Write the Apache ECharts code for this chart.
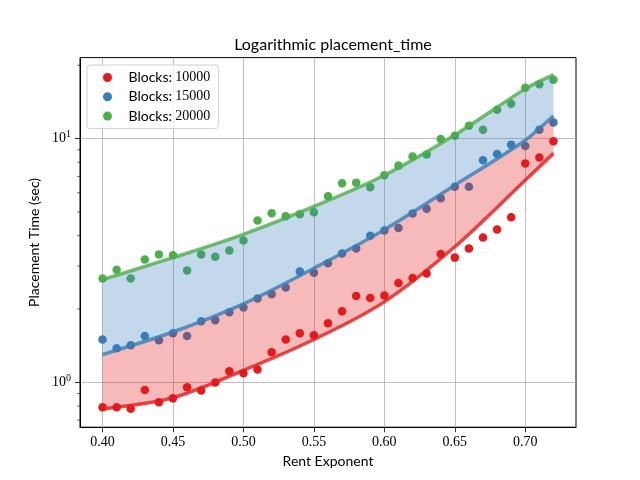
<!DOCTYPE html>
<html><head><meta charset="utf-8">
<script src="https://cdn.jsdelivr.net/npm/echarts@6/dist/echarts.min.js"></script>
<style>html,body{margin:0;padding:0;background:#fff}#c{width:640px;height:480px}</style>
</head><body><div id="c"></div>
<script>
// ---- data ----
const rentExponent = [0.40,0.41,0.42,0.43,0.44,0.45,0.46,0.47,0.48,0.49,0.50,0.51,0.52,0.53,0.54,0.55,0.56,0.57,0.58,0.59,0.60,0.61,0.62,0.63,0.64,0.65,0.66,0.67,0.68,0.69,0.70,0.71,0.72];
const blocks10000 = [0.79,0.79,0.78,0.93,0.83,0.86,0.955,0.927,1.00,1.11,1.09,1.13,1.33,1.50,1.59,1.56,1.75,1.96,2.26,2.22,2.27,2.56,2.68,2.80,3.36,3.25,3.54,3.93,4.24,4.76,7.90,8.36,9.75];
const blocks15000 = [1.50,1.38,1.42,1.55,1.49,1.59,1.55,1.78,1.80,1.94,2.03,2.21,2.30,2.45,2.85,2.82,3.08,3.38,3.54,4.00,4.20,4.30,4.93,5.16,5.69,6.35,6.35,8.15,8.65,9.45,9.33,10.88,11.66];
const blocks20000 = [2.67,2.90,2.67,3.19,3.35,3.32,2.88,3.35,3.28,3.48,3.82,4.61,4.94,4.80,4.90,4.99,5.80,6.56,6.60,6.32,7.07,7.75,8.44,8.60,9.96,10.28,11.30,10.88,13.15,13.91,16.18,16.70,17.45];
const seriesNames = ['Blocks: 10000','Blocks: 15000','Blocks: 20000'];
// fitted curves
const fitX = [0.40,0.45,0.50,0.55,0.60,0.65,0.70,0.72];
const fit10000 = [0.775,0.865,1.12,1.50,2.14,3.6,6.75,8.7];
const fit15000 = [1.30,1.61,2.10,2.94,4.23,6.44,9.85,12.4];
const fit20000 = [2.64,3.25,4.05,5.27,7.08,10.35,16.0,18.3];
// axes
const xTicks = [0.40,0.45,0.50,0.55,0.60,0.65,0.70];
const xRange = [0.384, 0.736];
const yRange = [0.655, 21.5];
const yMinorTicks = [0.7,0.8,0.9,2,3,4,5,6,7,8,9,20];

const colors = ['#e41a1c','#377eb8','#4daf4a'];
const SANS = 'Lato';
const SERIF = 'Liberation Serif';

const pts = (ys) => rentExponent.map((x, i) => [x, ys[i]]);

// smooth curve (cubic Hermite) through pixel points given by the axes
function curveCoords(api, ys) { return fitX.map((x, i) => api.coord([x, ys[i]])); }
function curvePath(P, X, start) {
  const n = P.length;
  const T = P.map((p, i) => {
    const a = Math.max(0, i - 1), b = Math.min(n - 1, i + 1);
    const dx = X[b] - X[a];
    return [(P[b][0] - P[a][0]) / dx, (P[b][1] - P[a][1]) / dx];
  });
  let d = (start ? 'M' : 'L') + P[0][0].toFixed(2) + ' ' + P[0][1].toFixed(2);
  for (let i = 0; i < n - 1; i++) {
    const h = (X[i + 1] - X[i]) / 3;
    const c1 = [P[i][0] + T[i][0] * h, P[i][1] + T[i][1] * h];
    const c2 = [P[i + 1][0] - T[i + 1][0] * h, P[i + 1][1] - T[i + 1][1] * h];
    d += ' C' + c1[0].toFixed(2) + ' ' + c1[1].toFixed(2) + ' ' + c2[0].toFixed(2) + ' ' + c2[1].toFixed(2) + ' ' + P[i + 1][0].toFixed(2) + ' ' + P[i + 1][1].toFixed(2);
  }
  return d;
}
function bandPath(api, lo, hi) {
  const L = curveCoords(api, lo), H = curveCoords(api, hi);
  return curvePath(L, fitX, true) + ' ' + curvePath(H.slice().reverse(), fitX.slice().reverse(), false) + ' Z';
}

const chart = echarts.init(document.getElementById('c'), null, {renderer: 'canvas'});
const scatter = [blocks10000, blocks15000, blocks20000].map((ys, k) => ({
  name: seriesNames[k], type: 'scatter', data: pts(ys), symbolSize: 8.5,
  itemStyle: {color: colors[k], opacity: 1}, z: 2, silent: true
}));

const option = {
  animation: false,
  backgroundColor: '#fff',
  title: {text: 'Logarithmic placement_time', left: 328, top: 32, textAlign: 'center',
    textStyle: {fontFamily: SANS, fontSize: 16, fontWeight: 'normal', color: '#000'}},
  legend: {
    data: seriesNames, left: 87, top: 65, orient: 'vertical', icon: 'circle',
    itemWidth: 32, itemHeight: 9, itemGap: 4.3, padding: [5, 8, 5, 16],
    backgroundColor: 'rgba(255,255,255,0.8)', borderColor: '#d0d0d0', borderWidth: 1, borderRadius: 3,
    formatter: (n) => '{s|Blocks:} {n|' + n.split(': ')[1] + '}',
    textStyle: {lineHeight: 15, rich: {
      s: {fontFamily: SANS, fontSize: 14, color: '#000'},
      n: {fontFamily: SERIF, fontSize: 14, color: '#000'}
    }}
  },
  grid: {left: 80, right: 64, top: 57.6, bottom: 52.8, show: true, borderColor: '#000', borderWidth: 1, backgroundColor: 'transparent'},
  xAxis: {
    type: 'value', min: xRange[0], max: xRange[1],
    name: 'Rent Exponent', nameLocation: 'middle', nameGap: 26,
    nameTextStyle: {fontFamily: SANS, fontSize: 14, color: '#000'},
    axisLine: {show: true, lineStyle: {color: '#000', width: 1}},
    axisTick: {show: true, length: 5, customValues: xTicks, lineStyle: {color: '#000', width: 0.8}},
    axisLabel: {customValues: xTicks, margin: 8, fontFamily: SERIF, fontSize: 14, color: '#000',
      formatter: (v) => v.toFixed(2)},
    splitLine: {show: true, lineStyle: {color: '#b0b0b0', width: 0.8}}
  },
  yAxis: {
    type: 'log', logBase: 10, min: yRange[0], max: yRange[1],
    name: 'Placement Time (sec)', nameLocation: 'middle', nameGap: 36,
    nameTextStyle: {fontFamily: SANS, fontSize: 14, color: '#000'},
    axisLine: {show: true, lineStyle: {color: '#000', width: 1}},
    axisTick: {show: true, length: 5, lineStyle: {color: '#000', width: 0.8}},
    axisLabel: {showMinLabel: false, showMaxLabel: false, margin: 9,
      formatter: (v) => {
        const e = Math.log10(v);
        if (Math.abs(e - Math.round(e)) > 1e-6) return '';
        return '{b|10}{s|' + Math.round(e) + '}';
      },
      rich: {b: {fontFamily: SERIF, fontSize: 14, color: '#000'},
             s: {fontFamily: SERIF, fontSize: 10, color: '#000', padding: [0, 0, 8, 0]}}},
    splitLine: {show: true, showMinLine: false, showMaxLine: false, lineStyle: {color: '#b0b0b0', width: 0.8}}
  },
  series: [
    ...scatter,
    {
      type: 'custom', silent: true, z: 3, data: [[fitX[0], fit10000[0]]],
      renderItem: (params, api) => ({
        type: 'group', children: [
          {type: 'path', shape: {pathData: bandPath(api, fit10000, fit15000)},
           style: {fill: 'rgba(228,26,28,0.3)', stroke: null}},
          {type: 'path', shape: {pathData: bandPath(api, fit15000, fit20000)},
           style: {fill: 'rgba(55,126,184,0.3)', stroke: null}}
        ]})
    },
    {
      type: 'custom', silent: true, z: 4, data: [[fitX[0], fit10000[0]]],
      renderItem: (params, api) => ({
        type: 'group', children: [fit10000, fit15000, fit20000].map((ys, k) => ({
          type: 'path', shape: {pathData: curvePath(curveCoords(api, ys), fitX, true)},
          style: {fill: 'none', stroke: colors[k], lineWidth: 3.5, opacity: 0.8}
        }))})
    },
    {
      type: 'custom', silent: true, clip: false, z: 5,
      data: yMinorTicks.map((v) => [xRange[0], v]),
      renderItem: (params, api) => {
        const p = api.coord([api.value(0), api.value(1)]);
        return {type: 'line', shape: {x1: p[0] - 2.8, y1: p[1], x2: p[0], y2: p[1]},
                style: {stroke: '#000', lineWidth: 0.6}};
      }
    }
  ]
};
chart.setOption(option);
</script></body></html>
